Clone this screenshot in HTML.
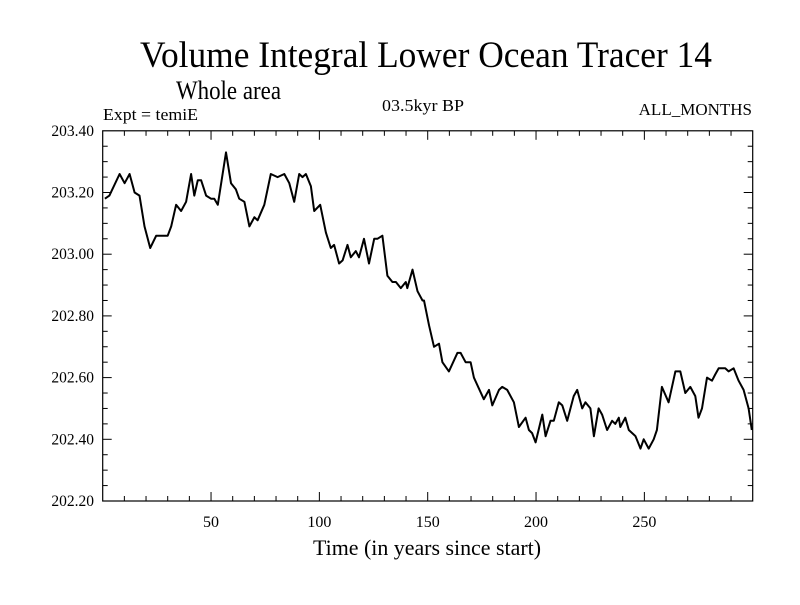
<!DOCTYPE html>
<html><head><meta charset="utf-8"><style>
body{margin:0;background:#fff;}
svg text{font-family:"Liberation Serif",serif;fill:#000;}
</style></head><body>
<svg id="chart" width="800" height="600" xmlns="http://www.w3.org/2000/svg">
<rect width="800" height="600" fill="#fff"/>
<text x="140" y="67" font-size="37" textLength="572" lengthAdjust="spacingAndGlyphs">Volume Integral Lower Ocean Tracer 14</text>
<text x="176" y="99" font-size="26" textLength="105" lengthAdjust="spacingAndGlyphs">Whole area</text>
<text x="103" y="120" font-size="17" textLength="95" lengthAdjust="spacingAndGlyphs">Expt = temiE</text>
<text x="382" y="111" font-size="17" textLength="82" lengthAdjust="spacingAndGlyphs">03.5kyr BP</text>
<text x="752" y="115" font-size="17" text-anchor="end">ALL_MONTHS</text>
<text x="313" y="555" font-size="22" textLength="228" lengthAdjust="spacingAndGlyphs">Time (in years since start)</text>
<g id="axes"></g>
<path id="line" fill="none" stroke="#000" stroke-width="2" stroke-linejoin="round"/>
<rect x="102.7" y="130.8" width="650" height="370.2" fill="none" stroke="#000" stroke-width="1.2"/>
</svg>
<script>
const years=[1,3.1,7.8,10.1,12.4,14.7,17.0,19.3,21.9,24.7,27.0,30.0,31.6,33.9,36.2,38.5,40.8,42.3,43.9,45.4,47.7,50.0,51.5,53.1,56.9,59.2,61.5,63.0,65.4,67.7,70.0,71.5,74.6,77.6,80.7,83.8,86.1,88.4,90.7,92.2,93.8,96.1,97.6,100.4,103.0,105.3,106.8,109.1,110.7,113.0,114.5,116.8,118.3,120.6,122.9,125.3,126.8,129.1,131.4,133.7,135.3,137.6,139.9,140.6,143.0,145.3,147.6,
148.3,150.6,152.9,155.2,156.8,159.8,163.7,165.2,167.5,169.8,171.3,175.9,178.3,179.8,182.9,184.4,186.7,189.8,192.1,195.2,196.7,198.2,199.8,202.9,204.4,206.7,208.2,210.5,212.1,214.4,217.4,219.0,221.3,222.8,225.1,226.7,228.9,230.5,232.8,235.1,236.6,238.2,238.9,241.2,242.8,245.9,248.2,249.7,252.0,254.3,255.8,258.1,261.2,264.3,266.6,268.9,271.2,273.5,275.0,276.6,278.9,281.2,282.7,284.3,285.8,287.3,288.9,291.2,293.5,295.8,298.1,299.6];
const values=[203.18,203.19,203.26,203.23,203.26,203.20,203.19,203.09,203.02,203.06,203.06,203.06,203.09,203.16,203.14,203.17,203.26,203.19,203.24,203.24,203.19,203.18,203.18,203.16,203.33,203.23,203.21,203.18,203.17,203.09,203.12,203.11,203.16,203.26,203.25,203.26,203.23,203.17,203.26,203.25,203.26,203.22,203.14,203.16,203.07,203.02,203.03,202.97,202.98,203.03,202.99,203.01,202.99,203.05,202.97,203.05,203.05,203.06,202.93,202.91,202.91,202.89,202.91,202.89,202.95,202.88,202.85,
202.85,202.77,202.70,202.71,202.65,202.62,202.68,202.68,202.65,202.65,202.60,202.53,202.56,202.51,202.56,202.57,202.56,202.52,202.44,202.47,202.43,202.42,202.39,202.48,202.41,202.46,202.46,202.52,202.51,202.46,202.54,202.56,202.50,202.52,202.50,202.41,202.50,202.48,202.43,202.46,202.45,202.47,202.44,202.47,202.43,202.41,202.37,202.40,202.37,202.40,202.43,202.57,202.52,202.62,202.62,202.55,202.57,202.54,202.47,202.50,202.60,202.59,202.61,202.63,202.63,202.63,202.62,202.63,202.59,202.56,202.50,202.43];
const xTickLabels=[50,100,150,200,250];
const yTickLabels=["202.20","202.40","202.60","202.80","203.00","203.20","203.40"];
const X0=102.7,X1=752.7,Y0=501,Y1=130.8,XMIN=0,XMAX=300,YMIN=202.2,YMAX=203.4;
function xs(t){return X0+(t-XMIN)/(XMAX-XMIN)*(X1-X0);}
function ys(v){return Y0-(v-YMIN)/(YMAX-YMIN)*(Y0-Y1);}
const NS="http://www.w3.org/2000/svg";
const ax=document.getElementById('axes');
function ln(x1,y1,x2,y2,name){const l=document.createElementNS(NS,'line');
l.setAttribute('x1',x1);l.setAttribute('y1',y1);l.setAttribute('x2',x2);l.setAttribute('y2',y2);
l.setAttribute('stroke','#000');l.setAttribute('stroke-width','1');


ax.appendChild(l);}
for(let t=10;t<300;t+=10){const x=xs(t);const L=(t%50===0)?9:5;
ln(x,Y0,x,Y0-L,'x-tick');ln(x,Y1,x,Y1+L,'x-tick-top');}
for(let i=1;i<24;i++){const v=YMIN+i*0.05;const y=ys(v);const L=(i%4===0)?9:5;
ln(X0,y,X0+L,y,'y-tick');ln(X1,y,X1-L,y,'y-tick-right');}
xTickLabels.forEach(t=>{const e=document.createElementNS(NS,'text');
e.setAttribute('x',xs(t));e.setAttribute('y',527);e.setAttribute('font-size','16');e.setAttribute('text-anchor','middle');
e.textContent=t;


ax.appendChild(e);});
yTickLabels.forEach(s=>{const e=document.createElementNS(NS,'text');
e.setAttribute('x',94);e.setAttribute('y',ys(parseFloat(s))+5);e.setAttribute('font-size','15.5');e.setAttribute('text-anchor','end');
e.textContent=s;


ax.appendChild(e);});
let d='';years.forEach((t,i)=>{d+=(i?'L':'M')+xs(t).toFixed(1)+','+ys(values[i]).toFixed(1);});
document.getElementById('line').setAttribute('d',d);
</script>
</body></html>
